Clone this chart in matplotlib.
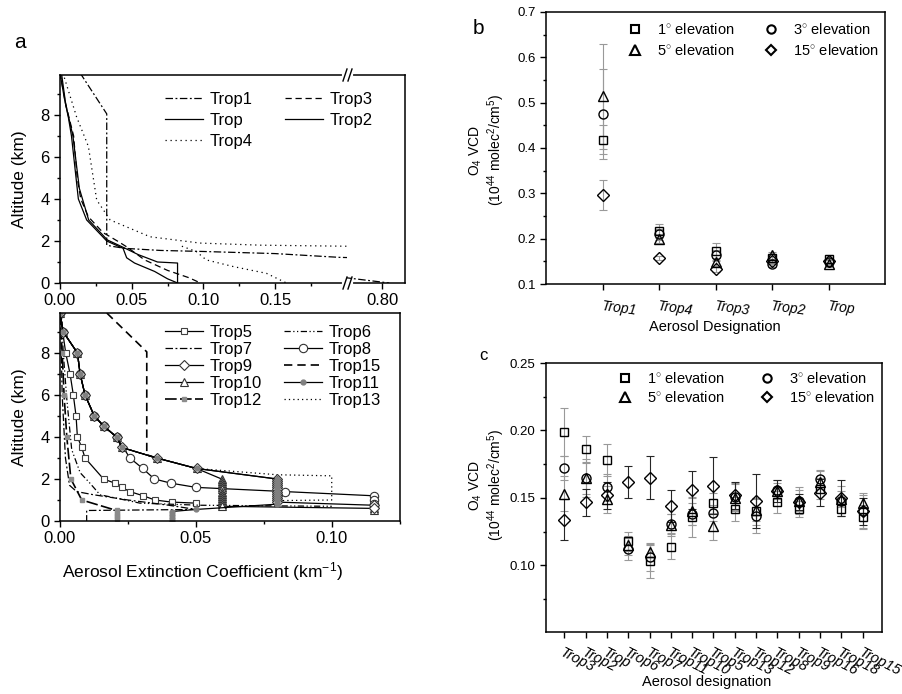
import numpy as np
import matplotlib
matplotlib.use('Agg')
import matplotlib.pyplot as plt
from matplotlib.lines import Line2D
from matplotlib.ticker import MultipleLocator, FixedLocator, FormatStrFormatter

plt.rcParams['font.family'] = ['Liberation Sans', 'DejaVu Sans']
plt.rcParams['mathtext.fontset'] = 'custom'
plt.rcParams['mathtext.rm'] = 'Liberation Sans'
plt.rcParams['mathtext.it'] = 'Liberation Sans:italic'

# ---------------- data: panel a (top), extinction (km-1) vs altitude (km) ----------------
trop1_x = [0.014, 0.0326, 0.0326, 0.036, 0.045, 0.07, 0.10, 0.15, 0.195, 0.775, 0.805]
trop1_alt = [10.0, 8.05, 1.8, 1.75, 1.65, 1.55, 1.5, 1.4, 1.22, 0.25, 0.0]
trop_x = [0.0, 0.003, 0.0058, 0.008, 0.0128, 0.0186, 0.0326, 0.044, 0.0465, 0.052, 0.066, 0.075, 0.082]
trop_alt = [10.0, 8.8, 7.9, 7.0, 4.0, 3.0, 2.0, 1.65, 1.2, 0.95, 0.55, 0.2, 0.0]
trop2_x = [0.001, 0.004, 0.009, 0.0135, 0.02, 0.033, 0.044, 0.0546, 0.068, 0.082, 0.082]
trop2_alt = [10.0, 8.5, 7.0, 4.5, 3.0, 2.05, 1.7, 1.35, 1.0, 0.95, 0.0]
trop3_x = [0.0, 0.004, 0.0095, 0.012, 0.0145, 0.0198, 0.03, 0.04, 0.047, 0.059, 0.075, 0.09, 0.098]
trop3_alt = [10.0, 8.5, 7.0, 5.0, 4.0, 3.15, 2.4, 2.0, 1.7, 1.1, 0.6, 0.25, 0.0]
trop4_x = [0.002, 0.0116, 0.0198, 0.0256, 0.035, 0.0628, 0.0977, 0.14, 0.2, np.nan,
           0.085, 0.095, 0.102, 0.121, 0.144, 0.158]
trop4_alt = [10.0, 7.9, 6.5, 3.95, 3.0, 2.2, 1.9, 1.8, 1.75, np.nan,
             1.75, 1.5, 1.1, 0.78, 0.46, 0.0]

# ---------------- data: panel a (bottom) ----------------
upper_x = [0.0, 0.0012, 0.0064, 0.0074, 0.0092, 0.0126, 0.0162, 0.0208, 0.0227, 0.0355, 0.0502]
upper_alt = [9.9, 9.0, 8.0, 7.0, 6.0, 5.0, 4.5, 4.0, 3.5, 3.0, 2.5]

trop5_x = [0.0, 0.0021, 0.0037, 0.0049, 0.0059, 0.0064, 0.008, 0.0092, 0.016, 0.0202,
           0.0227, 0.0257, 0.0306, 0.0349, 0.041, 0.05]
trop5_alt = [9.9, 8.0, 7.0, 6.0, 5.0, 4.0, 3.5, 3.0, 2.0, 1.8, 1.6, 1.4, 1.2, 1.0, 0.9, 0.85]
trop6_x = [0.0005, 0.0012, 0.0025, 0.0043, 0.0074, 0.011, 0.0147, 0.0294, 0.0515, 0.0797, 0.0999]
trop6_alt = [9.9, 8.0, 5.8, 3.4, 2.3, 1.8, 1.25, 0.85, 0.75, 0.72, 0.7]
trop7_x = [0.0002, 0.0008, 0.002, 0.0035, 0.0061, 0.0123, 0.025, 0.04, 0.05, 0.0098, 0.0098]
trop7_alt = [9.9, 6.0, 3.0, 1.7, 1.4, 1.25, 1.0, 0.75, 0.55, 0.5, 0.0]
trop8_x = upper_x[:8] + [0.0257, 0.0304, 0.0347, 0.0408, 0.05, 0.0827, 0.1154, 0.1154, 0.1154, 0.1154]
trop8_alt = upper_alt[:8] + [3.0, 2.5, 2.0, 1.8, 1.6, 1.4, 1.2, 1.0, 0.8, 0.65]
trop9_x = upper_x + [0.0797, 0.0797, 0.0797, 0.0797, 0.0797, 0.0797, 0.0797, 0.0797, 0.0797,
                     0.0797, 0.0797, 0.0797, 0.1154, 0.1154]
trop9_alt = upper_alt + [2.0, 1.9, 1.8, 1.7, 1.6, 1.5, 1.4, 1.3, 1.2, 1.1, 1.0, 0.9, 0.75, 0.6]
trop10_x = upper_x + [0.0594, 0.0594, 0.0594, 0.0594, 0.0594, 0.0594, 0.0594, 0.0594, 0.0594,
                      0.0594, 0.0594, 0.0594, 0.0594, 0.0594, 0.1154, 0.1154]
trop10_alt = upper_alt + [2.0, 1.9, 1.8, 1.7, 1.6, 1.5, 1.4, 1.3, 1.2, 1.1, 1.0, 0.9, 0.8, 0.7, 0.6, 0.5]
trop11_x = upper_x + [0.0797, 0.0797, 0.0797, 0.0797, 0.0797, 0.0797, 0.0797, 0.0797, 0.0797,
                      0.0797, 0.0797, 0.0797, 0.0797, 0.05, 0.041, 0.041, 0.041, 0.041]
trop11_alt = upper_alt + [2.0, 1.9, 1.8, 1.7, 1.6, 1.5, 1.4, 1.3, 1.2, 1.1, 1.0, 0.9, 0.8,
                          0.55, 0.45, 0.3, 0.15, 0.02]
trop12_x = [0.0, 0.0008, 0.0015, 0.0025, 0.004, 0.008, 0.0208, 0.0208, 0.0208, 0.0208, 0.0208]
trop12_alt = [9.9, 8.0, 6.0, 4.0, 2.0, 1.0, 0.5, 0.4, 0.3, 0.2, 0.1]
trop13_x = upper_x + [0.08, 0.0999, 0.0999, 0.0797]
trop13_alt = upper_alt + [2.2, 2.15, 1.0, 0.97]
trop15_x = [0.0172, 0.0319, 0.0319, 0.0355]
trop15_alt = [9.9, 8.05, 3.15, 3.0]

# ---------------- data: panel b ----------------
cats_b = ['Trop1', 'Trop4', 'Trop3', 'Trop2', 'Trop']
b_sq = [0.418, 0.217, 0.172, 0.157, 0.155]
b_ci = [0.475, 0.210, 0.163, 0.145, 0.148]
b_tr = [0.514, 0.200, 0.148, 0.163, 0.145]
b_di = [0.297, 0.157, 0.133, 0.150, 0.150]
b_sq_err = [0.032, 0.016, 0.018, 0.010, 0.010]
b_ci_err = [0.100, 0.012, 0.012, 0.008, 0.008]
b_tr_err = [0.116, 0.010, 0.010, 0.008, 0.008]
b_di_err = [0.033, 0.005, 0.006, 0.006, 0.006]

# ---------------- data: panel c ----------------
cats_c = ['Trop3', 'Trop2', 'Trop', 'Trop6', 'Trop7', 'Trop11', 'Trop10', 'Trop5', 'Trop13',
          'Trop12', 'Trop8', 'Trop9', 'Trop16', 'Trop18', 'Trop15']
c_sq = [0.199, 0.186, 0.178, 0.118, 0.103, 0.114, 0.136, 0.146, 0.142, 0.140, 0.147, 0.142, 0.157, 0.142, 0.136]
c_ci = [0.172, 0.165, 0.158, 0.112, 0.106, 0.131, 0.138, 0.139, 0.151, 0.137, 0.156, 0.148, 0.164, 0.148, 0.140]
c_tr = [0.153, 0.165, 0.149, 0.115, 0.110, 0.130, 0.140, 0.129, 0.150, 0.141, 0.155, 0.148, 0.162, 0.149, 0.146]
c_di = [0.134, 0.147, 0.152, 0.162, 0.165, 0.144, 0.156, 0.159, 0.152, 0.148, 0.155, 0.147, 0.154, 0.150, 0.140]
c_sq_err = [0.018, 0.010, 0.012, 0.007, 0.012, 0.009, 0.015, 0.008, 0.009, 0.010, 0.008, 0.006, 0.008, 0.005, 0.009]
c_ci_err = [0.009, 0.012, 0.010, 0.008, 0.010, 0.007, 0.008, 0.006, 0.010, 0.013, 0.007, 0.010, 0.007, 0.011, 0.012]
c_tr_err = [0.013, 0.014, 0.010, 0.007, 0.007, 0.008, 0.010, 0.010, 0.010, 0.008, 0.006, 0.008, 0.008, 0.006, 0.008]
c_di_err = [0.015, 0.010, 0.010, 0.012, 0.016, 0.012, 0.014, 0.021, 0.010, 0.020, 0.008, 0.006, 0.010, 0.013, 0.010]

elev_labels = ['1$^{\\circ}$ elevation', '5$^{\\circ}$ elevation', '3$^{\\circ}$ elevation', '15$^{\\circ}$ elevation']

W, H = 902, 694
fig = plt.figure(figsize=(W / 100, H / 100), dpi=100)


def box(l, t, r, b):
    # pixel box -> figure fraction
    return [l / W, 1 - b / H, (r - l) / W, (b - t) / H]


def style(ax, size):
    for s in ax.spines.values():
        s.set_linewidth(1.1)
    ax.tick_params(which='both', direction='out', width=1, labelsize=size, top=False, right=False)
    ax.tick_params(which='major', length=4)
    ax.tick_params(which='minor', length=2.5)


dashdot = (0, (6, 2, 1.5, 2))
dashed = (0, (5, 3))
dotted = (0, (1, 3))

########## panel a, top (broken x axis) ##########
axA1 = fig.add_axes(box(60, 75, 347, 283))
axA2 = fig.add_axes(box(347, 75, 405, 283))
top_series = [
    (trop1_x, trop1_alt, dashdot, 'Trop1'),
    (trop_x, trop_alt, '-', 'Trop'),
    (trop4_x, trop4_alt, dotted, 'Trop4'),
    (trop3_x, trop3_alt, dashed, 'Trop3'),
    (trop2_x, trop2_alt, '-', 'Trop2'),
]
handles = []
for x, y, ls, name in top_series:
    h, = axA1.plot(x, y, color='k', lw=0.9, ls=ls, label=name)
    axA2.plot(x, y, color='k', lw=0.9, ls=ls)
    handles.append(h)
for ax in (axA1, axA2):
    style(ax, 12)
    ax.set_ylim(0, 9.9)
axA1.set_xlim(0, 0.2002)
axA1.xaxis.set_major_locator(FixedLocator([0, 0.05, 0.10, 0.15]))
axA1.xaxis.set_minor_locator(FixedLocator([0.025, 0.075, 0.125, 0.175]))
axA1.xaxis.set_major_formatter(FormatStrFormatter('%.2f'))
axA1.yaxis.set_major_locator(MultipleLocator(2))
axA1.yaxis.set_minor_locator(MultipleLocator(1))
axA1.spines['right'].set_visible(False)
axA2.set_xlim(0.7756, 0.816)
axA2.set_xticks([0.80])
axA2.set_xticklabels(['0.80'])
axA2.set_yticks([])
axA2.spines['left'].set_visible(False)
axA2.patch.set_visible(False)
fig.legend(handles, [h.get_label() for h in handles], ncol=2, frameon=False, fontsize=12,
           loc='upper left', bbox_to_anchor=(165 / W, 1 - 92 / H), bbox_transform=fig.transFigure,
           borderpad=0, borderaxespad=0, handlelength=2.3, handletextpad=0.4,
           columnspacing=1.9, labelspacing=0.35)

# break marks on the shared spines
for yb in (75, 283):
    fig.add_artist(Line2D([344 / W, 351 / W], [1 - yb / H, 1 - yb / H], color='white', lw=3,
                          transform=fig.transFigure))
    for xb in (343, 348):
        fig.add_artist(Line2D([xb / W, (xb + 4) / W], [1 - (yb + 6) / H, 1 - (yb - 6) / H],
                              color='k', lw=1, transform=fig.transFigure))

########## panel a, bottom ##########
axA3 = fig.add_axes(box(60, 313, 400, 521))
style(axA3, 12)
lw = 0.9
bottom = {}
bottom['Trop5'], = axA3.plot(trop5_x, trop5_alt, color='k', lw=lw, marker='s', ms=4.5, mfc='white', mec='0.25', mew=0.8, label='Trop5')
bottom['Trop6'], = axA3.plot(trop6_x, trop6_alt, color='k', lw=lw, ls=(0, (5, 2, 1, 2, 1, 2)), label='Trop6')
bottom['Trop7'], = axA3.plot(trop7_x, trop7_alt, color='k', lw=lw, ls=dashdot, label='Trop7')
bottom['Trop15'], = axA3.plot(trop15_x, trop15_alt, color='k', lw=1.2, ls=dashed, label='Trop15')
bottom['Trop12'], = axA3.plot(trop12_x, trop12_alt, color='k', lw=1.2, ls=(0, (7, 2)), marker='s', ms=3.5, mfc='0.55', mec='0.55', label='Trop12')
bottom['Trop13'], = axA3.plot(trop13_x, trop13_alt, color='k', lw=lw, ls=(0, (1, 2.5)), label='Trop13')
bottom['Trop8'], = axA3.plot(trop8_x, trop8_alt, color='k', lw=lw, marker='o', ms=6, mfc='white', mec='0.2', mew=0.8, label='Trop8')
bottom['Trop10'], = axA3.plot(trop10_x, trop10_alt, color='k', lw=lw, marker='^', ms=6, mfc='white', mec='0.2', mew=0.8, label='Trop10')
bottom['Trop9'], = axA3.plot(trop9_x, trop9_alt, color='k', lw=lw, marker='D', ms=5.5, mfc='white', mec='0.2', mew=0.8, label='Trop9')
bottom['Trop11'], = axA3.plot(trop11_x, trop11_alt, color='k', lw=lw, marker='o', ms=3.5, mfc='0.5', mec='0.5', label='Trop11')
axA3.set_xlim(0, 0.125)
axA3.set_ylim(0, 9.9)
axA3.xaxis.set_major_locator(FixedLocator([0, 0.05, 0.10]))
axA3.xaxis.set_minor_locator(FixedLocator([0.025, 0.075, 0.125]))
axA3.xaxis.set_major_formatter(FormatStrFormatter('%.2f'))
axA3.yaxis.set_major_locator(MultipleLocator(2))
axA3.yaxis.set_minor_locator(MultipleLocator(1))
order = ['Trop5', 'Trop7', 'Trop9', 'Trop10', 'Trop12', 'Trop6', 'Trop8', 'Trop15', 'Trop11', 'Trop13']
axA3.legend([bottom[k] for k in order], order, ncol=2, frameon=False, fontsize=12,
            loc='upper left', bbox_to_anchor=(165 / W, 1 - 325 / H), bbox_transform=fig.transFigure,
            borderpad=0, borderaxespad=0, handlelength=2.3, handletextpad=0.4,
            columnspacing=1.3, labelspacing=0.12)

fig.text(20 / W, 1 - 179 / H, 'Altitude (km)', rotation=90, ha='center', va='center', fontsize=12.5)
fig.text(20 / W, 1 - 417 / H, 'Altitude (km)', rotation=90, ha='center', va='center', fontsize=12.5)
fig.text(202 / W, 1 - 572 / H, 'Aerosol Extinction Coefficient (km$^{-1}$)', ha='center', va='center', fontsize=12.5)
fig.text(20 / W, 1 - 42 / H, 'a', ha='center', va='center', fontsize=15)


########## panels b and c ##########
def elevation_panel(ax, xpos, sq, ci, tr, di, esq, eci, etr, edi, di_ecolor):
    ax.errorbar(xpos, sq, yerr=esq, fmt='none', ecolor='0.6', elinewidth=0.8, capsize=3, capthick=0.8)
    ax.errorbar(xpos, ci, yerr=eci, fmt='none', ecolor='0.6', elinewidth=0.8, capsize=3, capthick=0.8)
    ax.errorbar(xpos, tr, yerr=etr, fmt='none', ecolor='0.6', elinewidth=0.8, capsize=3, capthick=0.8)
    ax.errorbar(xpos, di, yerr=edi, fmt='none', ecolor=di_ecolor, elinewidth=0.8, capsize=3, capthick=0.8)
    ax.plot(xpos, sq, ls='none', marker='s', ms=6, mfc='none', mec='k', mew=1)
    ax.plot(xpos, ci, ls='none', marker='o', ms=6.5, mfc='none', mec='k', mew=1)
    ax.plot(xpos, tr, ls='none', marker='^', ms=7, mfc='none', mec='k', mew=1)
    ax.plot(xpos, di, ls='none', marker='D', ms=6, mfc='none', mec='k', mew=1)
    leg = [Line2D([], [], ls='none', marker=m, ms=s, mfc='none', mec='k', mew=1.5)
           for m, s in (('s', 5.5), ('^', 6.5), ('o', 6), ('D', 5.5))]
    return leg


axB = fig.add_axes(box(546, 12, 885, 284))
style(axB, 9.5)
xb = np.arange(1, len(cats_b) + 1)
legB = elevation_panel(axB, xb, b_sq, b_ci, b_tr, b_di, b_sq_err, b_ci_err, b_tr_err, b_di_err, '0.6')
axB.set_xlim(0, 6)
axB.set_ylim(0.1, 0.7)
axB.yaxis.set_major_locator(MultipleLocator(0.1))
axB.yaxis.set_minor_locator(MultipleLocator(0.05))
axB.yaxis.set_major_formatter(FormatStrFormatter('%.1f'))
axB.set_xticks(xb)
axB.set_xticklabels(cats_b, rotation=-8, ha='left', va='top', rotation_mode='anchor', style='italic', fontsize=10)
axB.tick_params(axis='x', pad=7)
axB.legend(legB, elev_labels, ncol=2, frameon=False, fontsize=10.5, loc='upper left',
           bbox_to_anchor=(628 / W, 1 - 22 / H), bbox_transform=fig.transFigure,
           borderpad=0, borderaxespad=0, handlelength=1.0, handletextpad=1.0,
           columnspacing=2.0, labelspacing=0.4)
fig.text(715 / W, 1 - 327 / H, 'Aerosol Designation', ha='center', va='center', fontsize=10.5)
fig.text(487 / W, 1 - 150 / H, 'O$_4$ VCD\n(10$^{44}$ molec$^2$/cm$^5$)', rotation=90,
         ha='center', va='center', multialignment='center', fontsize=10, linespacing=1.1)
fig.text(478 / W, 1 - 29 / H, 'b', ha='center', va='center', fontsize=15)

axC = fig.add_axes(box(546, 363, 882, 632))
style(axC, 9.5)
xc = np.arange(1, len(cats_c) + 1)
legC = elevation_panel(axC, xc, c_sq, c_ci, c_tr, c_di, c_sq_err, c_ci_err, c_tr_err, c_di_err, '0.15')
axC.set_xlim(0.14, 15.91)
axC.set_ylim(0.0507, 0.25)
axC.yaxis.set_major_locator(FixedLocator([0.10, 0.15, 0.20, 0.25]))
axC.yaxis.set_minor_locator(FixedLocator([0.075, 0.125, 0.175, 0.225]))
axC.yaxis.set_major_formatter(FormatStrFormatter('%.2f'))
axC.set_xticks(xc)
axC.set_xticklabels(cats_c, rotation=-27, ha='left', va='top', rotation_mode='anchor', style='italic', fontsize=10.5)
axC.tick_params(axis='x', pad=6)
axC.legend(legC, elev_labels, ncol=2, frameon=False, fontsize=10.5, loc='upper left',
           bbox_to_anchor=(618 / W, 1 - 371 / H), bbox_transform=fig.transFigure,
           borderpad=0, borderaxespad=0, handlelength=1.0, handletextpad=1.0,
           columnspacing=2.4, labelspacing=0.3)
fig.text(707 / W, 1 - 682 / H, 'Aerosol designation', ha='center', va='center', fontsize=10.5)
fig.text(487 / W, 1 - 485 / H, 'O$_4$ VCD\n(10$^{44}$ molec$^2$/cm$^5$)', rotation=90,
         ha='center', va='center', multialignment='center', fontsize=10, linespacing=1.1)
fig.text(483 / W, 1 - 355 / H, 'c', ha='center', va='center', fontsize=12)

plt.savefig('out.png', dpi=100)
